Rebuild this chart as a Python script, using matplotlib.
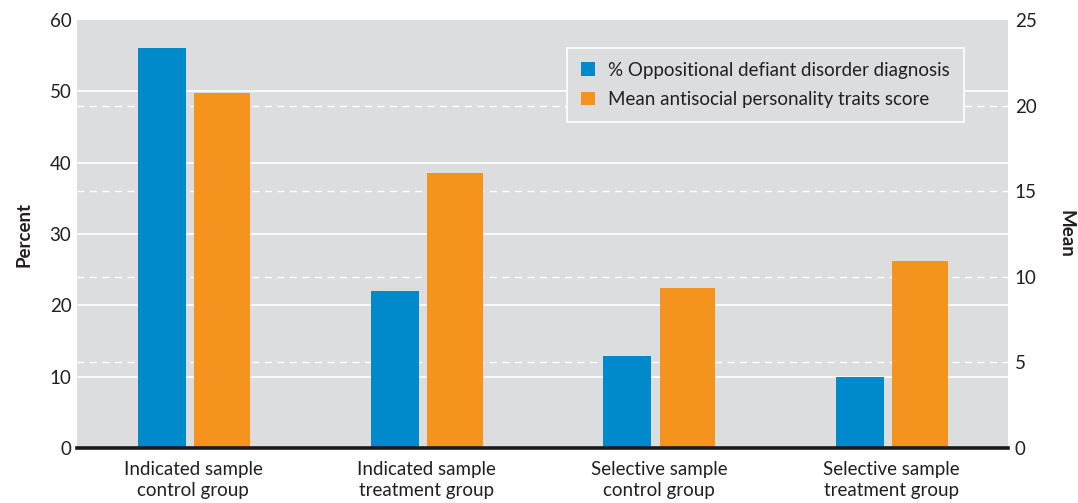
import matplotlib
matplotlib.use("Agg")
import matplotlib.pyplot as plt
import numpy as np

# ── Data ───────────────────────────────────────────────────────────────────────
categories = [
    "Indicated sample\ncontrol group",
    "Indicated sample\ntreatment group",
    "Selective sample\ncontrol group",
    "Selective sample\ntreatment group",
]
odd_percent = [56.1, 22.0, 12.9, 10.0]          # left axis (Percent)
antisocial_mean = [20.75, 16.05, 9.35, 10.9]    # right axis (Mean)

left_ticks = [0, 10, 20, 30, 40, 50, 60]
right_ticks = [0, 5, 10, 15, 20, 25]

# ── Style ──────────────────────────────────────────────────────────────────────
BLUE = "#0089cb"
ORANGE = "#f5931f"
BG = "#dcdddf"
TEXT = "#231f20"
FS = 13.5

plt.rcParams["font.family"] = ["Lato", "DejaVu Sans"]

fig = plt.figure(figsize=(10.78, 5.03), dpi=100)
ax = fig.add_axes([0.0714, 0.1093, 0.8636, 0.8509])
ax2 = ax.twinx()

ax.set_facecolor(BG)
ax.set_zorder(0)
ax2.set_zorder(1)
ax2.patch.set_visible(False)

x = np.arange(len(categories))
ax.set_xlim(-0.5, len(categories) - 0.5)
ax.set_ylim(0, 60)
ax2.set_ylim(0, 25)

# grid: solid on left ticks, dashed on right ticks
for v in left_ticks[1:-1]:
    ax.axhline(v, color="white", linewidth=1.2, zorder=1)
for v in right_ticks[1:-1]:
    ax2.axhline(v, color="white", linewidth=1.0, linestyle=(0, (5, 4)), zorder=1)

b1 = ax2.bar(x - 0.135, [v * 25 / 60 for v in odd_percent], 0.206,
             color=BLUE, zorder=3, label="% Oppositional defiant disorder diagnosis")
b2 = ax2.bar(x + 0.123, antisocial_mean, 0.24,
             color=ORANGE, zorder=3, label="Mean antisocial personality traits score")

# spines
for a in (ax, ax2):
    for s in ("top", "left", "right", "bottom"):
        a.spines[s].set_visible(False)
ax2.axhline(0, color="#1a1a1a", linewidth=2.6, zorder=5, clip_on=False)

ax.set_yticks(left_ticks)
ax2.set_yticks(right_ticks)
ax.tick_params(axis="y", length=0, pad=4, labelsize=FS, labelcolor=TEXT)
ax2.tick_params(axis="y", length=0, pad=5, labelsize=FS, labelcolor=TEXT)
ax.set_xticks(x)
ax.set_xticklabels(categories, fontsize=FS, color=TEXT, linespacing=1.3)
ax.tick_params(axis="x", length=0, pad=9)

ax.set_ylabel("Percent", fontsize=FS, fontweight="bold", color=TEXT, labelpad=12)
ax2.set_ylabel("Mean", fontsize=FS, fontweight="bold", color=TEXT,
               rotation=-90, labelpad=27)

leg = ax2.legend(handles=[b1, b2], loc="upper right",
                 bbox_to_anchor=(0.953, 0.935), borderaxespad=0, fontsize=FS,
                 frameon=True, fancybox=False, handlelength=0.75, handleheight=0.75,
                 handletextpad=0.7, borderpad=0.75, labelspacing=0.65)
leg.get_frame().set_facecolor(BG)
leg.get_frame().set_edgecolor("white")
leg.get_frame().set_linewidth(1.2)
leg.get_frame().set_alpha(1)
for t in leg.get_texts():
    t.set_color(TEXT)

fig.savefig("out.png", dpi=100, facecolor="white")
